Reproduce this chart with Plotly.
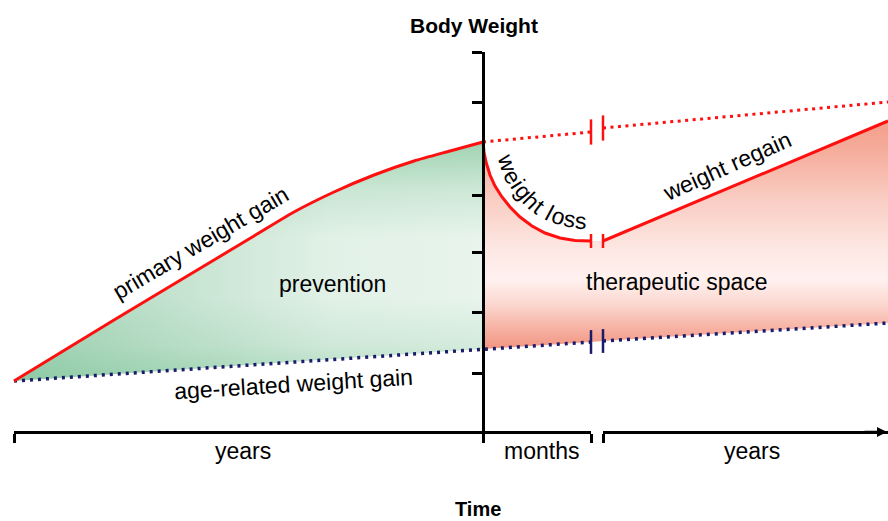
import math
import plotly.graph_objects as go

# ---------------- data (time position, body-weight level) ----------------
# time axis: picture x position; weight: height above the bottom edge of the picture
gain_t = [14, 114, 214, 254, 294, 334, 374, 414, 450, 483]
gain_w = [140, 201, 261, 285, 309, 329, 346, 360, 370, 379]

age_t = [14, 483, 591, None, 603, 888]
age_w = [140, 172, 179, None, 180, 198]

untreated_t = [483, 591, None, 603, 888]
untreated_w = [379, 389, None, 393, 419]

loss_t = [483, 484, 486, 490, 495, 502, 510, 520, 532, 545, 560, 575, 591]
loss_w = [379, 369, 359, 346, 335, 324, 314, 304, 295, 288, 283, 280.5, 280]

regain_t = [603, 888]
regain_w = [280, 400]

break_t = [591, 603]

weight_ticks = [469, 419, 326, 269, 209, 148]
time_ticks_left = [14, 483, 591]
time_ticks_right = [603]

period_labels = ["years", "months", "years"]
period_x = [243, 541, 752]

W, H = 888, 521
FONT = "Liberation Sans, Arial, sans-serif"
RED = "#ff1010"
NAVY = "#1b1b6b"
GREEN_V = [[0.0, "rgb(178,222,194)"], [0.15, "rgb(212,235,220)"], [0.35, "rgb(232,244,236)"],
           [0.6, "rgb(232,244,236)"], [0.8, "rgb(206,232,215)"], [1.0, "rgb(160,211,178)"]]
GREEN_H = [[0.0, "rgba(110,185,140,0.55)"], [0.4, "rgba(110,185,140,0.25)"],
           [0.68, "rgba(110,185,140,0.05)"], [1.0, "rgba(110,185,140,0.0)"]]
RED_V = [[0.0, "rgb(241,148,128)"], [0.083, "rgb(246,175,160)"], [0.193, "rgb(251,214,206)"],
         [0.303, "rgb(255,241,239)"], [0.434, "rgb(253,232,228)"], [0.654, "rgb(249,205,195)"],
         [0.873, "rgb(245,172,155)"], [1.0, "rgb(243,158,138)"]]


def solid(seq):
    return [v for v in seq if v is not None]


age_pts = list(zip(solid(age_t), solid(age_w)))
age_left = [p for p in age_pts if p[0] <= gain_t[-1]]
age_right = [p for p in age_pts if p[0] >= loss_t[0]]

fig = go.Figure()

# prevention area (green)
green_x = gain_t + [p[0] for p in reversed(age_left)]
green_y = gain_w + [p[1] for p in reversed(age_left)]
fig.add_trace(go.Scatter(x=green_x, y=green_y, mode="none", fill="toself",
                         fillgradient=dict(type="vertical", colorscale=GREEN_V,
                                           start=min(green_y), stop=max(green_y)),
                         hoverinfo="skip"))
fig.add_trace(go.Scatter(x=green_x, y=green_y, mode="none", fill="toself",
                         fillgradient=dict(type="horizontal", colorscale=GREEN_H,
                                           start=min(green_x), stop=max(green_x)),
                         hoverinfo="skip"))

# therapeutic space (red)
red_x = loss_t + regain_t + [p[0] for p in reversed(age_right)]
red_y = loss_w + regain_w + [p[1] for p in reversed(age_right)]
fig.add_trace(go.Scatter(x=red_x, y=red_y, mode="none", fill="toself",
                         fillgradient=dict(type="vertical", colorscale=RED_V,
                                           start=min(red_y), stop=max(red_y)),
                         hoverinfo="skip"))

# lines
fig.add_trace(go.Scatter(x=age_t, y=age_w, mode="lines",
                         line=dict(color=NAVY, width=3.5, dash="3px,5px")))
fig.add_trace(go.Scatter(x=untreated_t, y=untreated_w, mode="lines",
                         line=dict(color=RED, width=3, dash="3px,4.5px")))
fig.add_trace(go.Scatter(x=gain_t, y=gain_w, mode="lines",
                         line=dict(color=RED, width=3, shape="spline", smoothing=0.6)))
fig.add_trace(go.Scatter(x=loss_t, y=loss_w, mode="lines",
                         line=dict(color=RED, width=3)))
fig.add_trace(go.Scatter(x=regain_t, y=regain_w, mode="lines",
                         line=dict(color=RED, width=3)))


# break marks
def at(ts, ws, t):
    return [w for tt, w in zip(ts, ws) if tt == t][0]


fig.add_trace(go.Scatter(x=break_t, y=[at(untreated_t, untreated_w, t) for t in break_t],
                         mode="markers", marker=dict(symbol="line-ns", size=18,
                                                     line=dict(color=RED, width=2.5))))
fig.add_trace(go.Scatter(x=break_t, y=[at(age_t, age_w, t) for t in break_t],
                         mode="markers", marker=dict(symbol="line-ns", size=17,
                                                     line=dict(color=NAVY, width=2.5))))
fig.add_trace(go.Scatter(x=break_t, y=[loss_w[-1], regain_w[0]],
                         mode="markers", marker=dict(symbol="line-ns", size=10,
                                                     line=dict(color=RED, width=2.5))))

# dummy traces to realise the two time-axis segments
fig.add_trace(go.Scatter(x=[time_ticks_left[1]], y=[weight_ticks[-1]], xaxis="x2", yaxis="y",
                         mode="markers", marker=dict(opacity=0), hoverinfo="skip"))
fig.add_trace(go.Scatter(x=[regain_t[-1]], y=[weight_ticks[-1]], xaxis="x3", yaxis="y",
                         mode="markers", marker=dict(opacity=0), hoverinfo="skip"))

AX_BOTTOM, AX_TOP = 80, 469
X_LINE = 89

fig.update_layout(
    width=W, height=H, margin=dict(l=0, r=0, t=0, b=0),
    paper_bgcolor="white", plot_bgcolor="rgba(0,0,0,0)",
    showlegend=False,
    xaxis=dict(domain=[0, 1], range=[0, W], visible=False, fixedrange=True),
    yaxis=dict(domain=[AX_BOTTOM / H, AX_TOP / H], range=[AX_BOTTOM, AX_TOP],
               anchor="free", position=483 / W, side="left",
               showline=True, linecolor="black", linewidth=2.5,
               ticks="outside", tickvals=weight_ticks, ticklen=10, tickwidth=2.5, tickcolor="black",
               showticklabels=False, showgrid=False, zeroline=False, fixedrange=True),
    xaxis2=dict(domain=[14 / W, 591 / W], range=[14, 591], anchor="free", position=X_LINE / H,
                showline=True, linecolor="black", linewidth=2.5,
                ticks="outside", tickvals=time_ticks_left, ticklen=9, tickwidth=2.5,
                tickcolor="black", showticklabels=False, showgrid=False, zeroline=False,
                fixedrange=True),
    xaxis3=dict(domain=[603 / W, 1], range=[603, W], anchor="free", position=X_LINE / H,
                showline=True, linecolor="black", linewidth=2.5,
                ticks="outside", tickvals=time_ticks_right, ticklen=9, tickwidth=2.5,
                tickcolor="black", showticklabels=False, showgrid=False, zeroline=False,
                fixedrange=True),
)


def ann(text, px, py, size=23, angle=0):
    return dict(text=text, x=px / W, y=1 - py / H, xref="paper", yref="paper",
                showarrow=False, textangle=angle, xanchor="center", yanchor="middle",
                font=dict(family=FONT, size=size, color="black"))


annotations = [
    ann("<b>Body Weight</b>", 474, 25, 21),
    ann("<b>Time</b>", 478, 509, 20),
    ann("prevention", 332, 284),
    ann("therapeutic space", 677, 282),
    ann("primary weight gain", 200, 243, angle=-30.5),
    ann("age-related weight gain", 293, 384, angle=-3.5),
    ann("weight regain", 727, 166, angle=-24),
]
for lab, x in zip(period_labels, period_x):
    annotations.append(ann(lab, x, 451))


# "weight loss" written along the inside of the weight-loss curve
def text_along_curve(ts, ws, text, size=23, offset=20, center_frac=0.54):
    em = {"w": .722, "e": .556, "i": .222, "g": .556, "h": .556, "t": .278, " ": .278,
          "l": .222, "o": .556, "s": .5}
    xs = list(ts)
    ys = [H - w for w in ws]  # screen coordinates
    n = len(xs)
    ox, oy = [], []
    for i in range(n):
        i0, i1 = max(i - 1, 0), min(i + 1, n - 1)
        tx, ty = xs[i1] - xs[i0], ys[i1] - ys[i0]
        L = math.hypot(tx, ty)
        tx, ty = tx / L, ty / L
        ox.append(xs[i] + offset * ty)
        oy.append(ys[i] - offset * tx)
    cum = [0.0]
    for i in range(1, n):
        cum.append(cum[-1] + math.hypot(ox[i] - ox[i - 1], oy[i] - oy[i - 1]))
    total = sum(em[c] for c in text) * size
    s = center_frac * cum[-1] - total / 2
    out = []
    for c in text:
        wc = em[c] * size
        sc = s + wc / 2
        s += wc
        if c == " ":
            continue
        j = 1
        while j < n - 1 and cum[j] < sc:
            j += 1
        f = (sc - cum[j - 1]) / (cum[j] - cum[j - 1])
        px = ox[j - 1] + f * (ox[j] - ox[j - 1])
        py = oy[j - 1] + f * (oy[j] - oy[j - 1])
        ang = math.degrees(math.atan2(oy[j] - oy[j - 1], ox[j] - ox[j - 1]))
        out.append(ann(c, px, py, size=size, angle=ang))
    return out


annotations += text_along_curve(loss_t, loss_w, "weight loss")

annotations.append(dict(x=887 / W, y=X_LINE / H, xref="paper", yref="paper", text="",
                        showarrow=True, ax=-24, ay=0, arrowhead=2, arrowsize=0.8,
                        arrowwidth=2.5, arrowcolor="black"))
fig.update_layout(annotations=annotations)

fig.write_html("out.html", config={"displayModeBar": False},
               post_script="document.body.style.margin='0px';"
                           "document.body.style.overflow='hidden';")
